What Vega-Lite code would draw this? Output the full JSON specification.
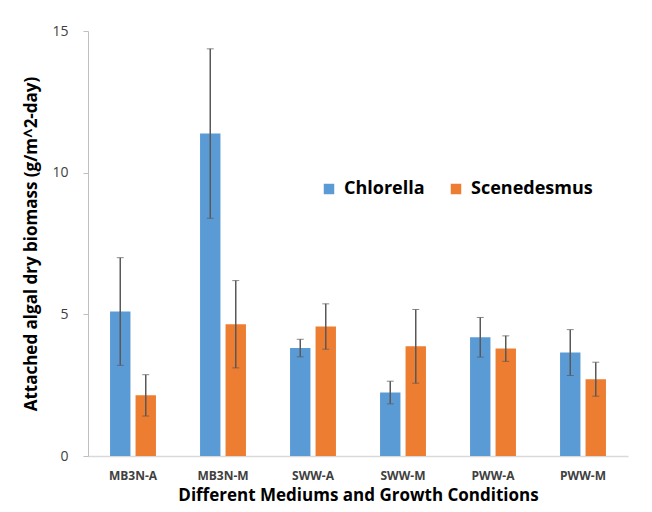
{
  "$schema": "https://vega.github.io/schema/vega-lite/v6.json",
  "width": 540,
  "height": 425,
  "autosize": {"type": "none"},
  "padding": {"left": 88, "top": 31, "right": 24, "bottom": 56},
  "background": "white",
  "config": {
    "view": {"stroke": null},
    "font": "Open Sans"
  },
  "data": {
    "values": [
      {"condition": "MB3N-A", "species": "Chlorella", "biomass": 5.1, "err": 1.9},
      {"condition": "MB3N-A", "species": "Scenedesmus", "biomass": 2.14, "err": 0.73},
      {"condition": "MB3N-M", "species": "Chlorella", "biomass": 11.38, "err": 2.99},
      {"condition": "MB3N-M", "species": "Scenedesmus", "biomass": 4.65, "err": 1.54},
      {"condition": "SWW-A", "species": "Chlorella", "biomass": 3.81, "err": 0.31},
      {"condition": "SWW-A", "species": "Scenedesmus", "biomass": 4.57, "err": 0.8},
      {"condition": "SWW-M", "species": "Chlorella", "biomass": 2.24, "err": 0.4},
      {"condition": "SWW-M", "species": "Scenedesmus", "biomass": 3.87, "err": 1.3},
      {"condition": "PWW-A", "species": "Chlorella", "biomass": 4.19, "err": 0.7},
      {"condition": "PWW-A", "species": "Scenedesmus", "biomass": 3.79, "err": 0.45},
      {"condition": "PWW-M", "species": "Chlorella", "biomass": 3.65, "err": 0.81},
      {"condition": "PWW-M", "species": "Scenedesmus", "biomass": 2.71, "err": 0.6}
    ]
  },
  "encoding": {
    "x": {
      "field": "condition",
      "type": "nominal",
      "sort": null,
      "scale": {"paddingInner": 0.49, "paddingOuter": 0.245},
      "axis": {
        "title": "Different Mediums and Growth Conditions",
        "titleFontSize": 17,
        "titleFontWeight": "bold",
        "titleColor": "#000000",
        "titlePadding": 6,
        "labelAngle": 0,
        "labelFontSize": 12,
        "labelFontWeight": "bold",
        "labelColor": "#404040",
        "labelPadding": 14,
        "ticks": false,
        "domainColor": "#d9d9d9",
        "domainWidth": 1.5
      }
    },
    "xOffset": {
      "field": "species",
      "type": "nominal",
      "scale": {"paddingInner": 0.2}
    }
  },
  "layer": [
    {
      "mark": {"type": "bar"},
      "encoding": {
        "y": {
          "field": "biomass",
          "type": "quantitative",
          "scale": {"domain": [0, 15], "nice": false},
          "axis": {
            "title": "Attached algal dry biomass (g/m^2-day)",
            "titleFontSize": 17,
            "titleFontWeight": "bold",
            "titleColor": "#000000",
            "titlePadding": 11,
            "values": [0, 5, 10, 15],
            "grid": false,
            "labelFontSize": 14,
            "labelColor": "#404040",
            "labelPadding": 15,
            "tickSize": 5,
            "tickColor": "#bfbfbf",
            "domainColor": "#bfbfbf"
          }
        },
        "color": {
          "field": "species",
          "type": "nominal",
          "scale": {"domain": ["Chlorella", "Scenedesmus"], "range": ["#5B9BD5", "#ED7D31"]},
          "legend": {
            "title": null,
            "orient": "none",
            "legendX": 232,
            "legendY": 149,
            "direction": "horizontal",
            "symbolType": "square",
            "symbolSize": 110,
            "symbolStrokeWidth": 0,
            "labelFontSize": 18,
            "labelFontWeight": "bold",
            "labelColor": "#000000",
            "columnPadding": 22,
            "labelOffset": 6
          }
        }
      }
    },
    {
      "mark": {"type": "errorbar", "ticks": {"size": 7, "color": "#595959"}, "rule": {"color": "#595959", "strokeWidth": 1.5}},
      "encoding": {
        "y": {
          "field": "biomass",
          "type": "quantitative",
          "title": "Attached algal dry biomass (g/m^2-day)",
          "scale": {"domain": [0, 15], "nice": false}
        },
        "yError": {"field": "err"}
      }
    }
  ]
}
